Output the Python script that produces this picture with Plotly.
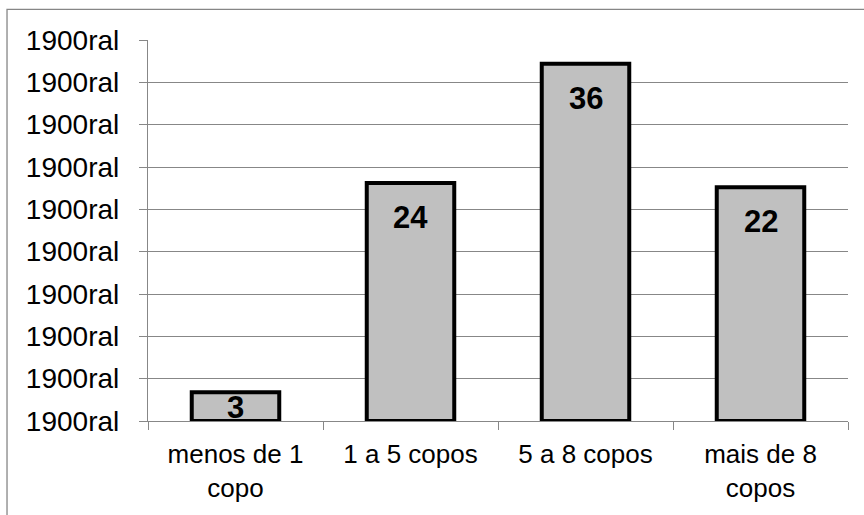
import plotly.graph_objects as go

categories = ["menos de 1<br>copo", "1 a 5 copos", "5 a 8 copos", "mais de 8<br>copos"]
bar_values = [0.034, 0.281, 0.422, 0.276]
bar_labels = ["3", "24", "36", "22"]
y_ticks = [0, 0.05, 0.10, 0.15, 0.20, 0.25, 0.30, 0.35, 0.40, 0.45]
y_tick_labels = ["1900ral"] * len(y_ticks)

FONT = "Liberation Sans, Arial, sans-serif"
GRID = "#878787"

fig = go.Figure()
fig.add_trace(go.Bar(
    x=categories, y=bar_values,
    marker=dict(color="#c0c0c0", line=dict(color="#000000", width=4)),
    hoverinfo="skip",
))

annotations = []
for cat, v, lab in zip(categories, bar_values, bar_labels):
    if v < 0.1:
        annotations.append(dict(x=cat, y=v / 2, text="<b>%s</b>" % lab, showarrow=False,
                                yanchor="middle", xanchor="center", yshift=-1,
                                font=dict(family=FONT, size=31, color="#000000")))
    else:
        annotations.append(dict(x=cat, y=v, text="<b>%s</b>" % lab, showarrow=False,
                                yanchor="top", xanchor="center", yshift=-15,
                                font=dict(family=FONT, size=31, color="#000000")))

fig.update_layout(
    width=864, height=515,
    margin=dict(l=148, r=16, t=40, b=94, autoexpand=False),
    paper_bgcolor="#ffffff", plot_bgcolor="#ffffff",
    showlegend=False,
    bargap=0.5,
    annotations=annotations,
    font=dict(family=FONT, color="#000000"),
    shapes=[dict(type="rect", xref="paper", yref="paper",
                 x0=-0.2014, x1=1.2, y0=-0.4, y1=1.0804,
                 line=dict(color="#868686", width=1.3), fillcolor="rgba(0,0,0,0)",
                 layer="below")],
)
fig.update_xaxes(
    type="category", range=[-0.5, 3.5],
    showline=True, linecolor=GRID, linewidth=1.3,
    ticks="outside", tickson="boundaries", ticklen=8, tickcolor=GRID, tickwidth=1.3,
    tickfont=dict(family=FONT, size=26, color="#000000"),
    ticklabelstandoff=10,
    showgrid=False, zeroline=False, fixedrange=True,
)
fig.update_yaxes(
    range=[0, 0.45], tickvals=y_ticks, ticktext=y_tick_labels,
    showline=True, linecolor=GRID, linewidth=1.3,
    ticks="outside", ticklen=8, tickcolor=GRID, tickwidth=1.3,
    tickfont=dict(family=FONT, size=28, color="#000000"),
    ticklabelstandoff=14,
    showgrid=True, gridcolor=GRID, gridwidth=1.3,
    zeroline=False, fixedrange=True,
)

fig.write_html("out.html", config=dict(displayModeBar=False))
